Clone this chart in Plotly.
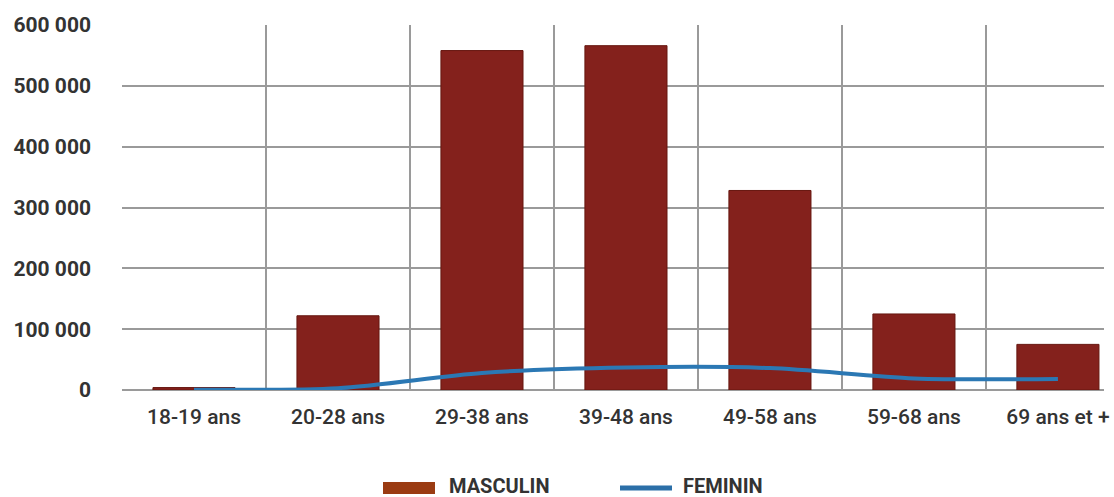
import plotly.graph_objects as go

categories = ["18-19 ans", "20-28 ans", "29-38 ans", "39-48 ans", "49-58 ans", "59-68 ans", "69 ans et +"]
masculin = [4000, 122000, 558000, 566000, 328000, 125000, 75000]
feminin = [500, 3000, 28000, 37000, 36000, 19000, 18000]
y_ticks = [0, 100000, 200000, 300000, 400000, 500000, 600000]

FONT = "Roboto, Liberation Sans, sans-serif"
W, H = 1114, 497
L, R, T, B = 122, 10, 25, 107

fig = go.Figure()
fig.add_trace(go.Bar(
    x=categories, y=masculin, name="MASCULIN",
    marker=dict(color="#84211c", line=dict(color="#66160f", width=1)),
    width=0.57, showlegend=False,
))
fig.add_trace(go.Scatter(
    x=categories, y=feminin, name="FEMININ", mode="lines",
    line=dict(color="#2b78b4", width=4, shape="spline", smoothing=0.8),
    showlegend=False,
))

pw = W - L - R
ph = H - T - B
def px(x):
    return (x - L) / pw
def py(y):
    return (H - B - y) / ph

shapes = [
    dict(type="rect", xref="paper", yref="paper",
         x0=px(383), x1=px(435), y0=py(494), y1=py(482),
         fillcolor="#9a3b12", line=dict(width=0)),
    dict(type="line", xref="paper", yref="paper",
         x0=px(620), x1=px(672), y0=py(488), y1=py(488),
         line=dict(color="#2b6fa8", width=5)),
]
annotations = [
    dict(text="MASCULIN", xref="paper", yref="paper", x=px(447), y=py(486),
         xanchor="left", yanchor="middle", showarrow=False,
         font=dict(family=FONT, size=20, color="#333333", weight="bold")),
    dict(text="FEMININ", xref="paper", yref="paper", x=px(681), y=py(486),
         xanchor="left", yanchor="middle", showarrow=False,
         font=dict(family=FONT, size=20, color="#333333", weight="bold")),
]

fig.update_layout(
    width=W, height=H,
    margin=dict(l=L, r=R, t=T, b=B, autoexpand=False),
    paper_bgcolor="white", plot_bgcolor="white",
    separators=", ",
    bargap=0.43,
    shapes=shapes, annotations=annotations,
    showlegend=False,
)
fig.update_xaxes(
    type="category", range=[-0.5, 6.32],
    tickson="boundaries", showgrid=True, gridcolor="#9a9a9a", gridwidth=1.5,
    ticks="", ticklabelstandoff=12, tickangle=0, automargin=False,
    showline=False, zeroline=False,
    tickfont=dict(family=FONT, size=21, color="#333333", weight=500),
)
fig.update_yaxes(
    range=[0, 600000], tickvals=y_ticks, tickformat=",d",
    showgrid=True, gridcolor="#9a9a9a", gridwidth=1.5,
    zeroline=True, zerolinecolor="#9a9a9a", zerolinewidth=1.5,
    ticks="", ticklabelstandoff=30, automargin=False,
    tickfont=dict(family=FONT, size=21, color="#333333", weight="bold"),
)

fig.write_html("out.html")
